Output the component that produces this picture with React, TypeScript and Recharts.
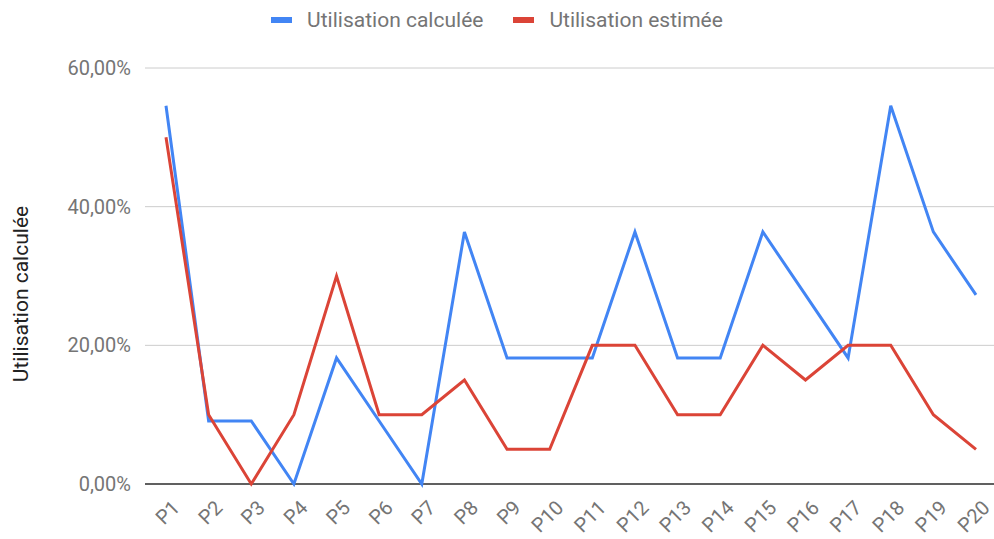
import { LineChart, Line, XAxis, YAxis, CartesianGrid, Legend, ReferenceLine } from "recharts";

const periods = ["P1", "P2", "P3", "P4", "P5", "P6", "P7", "P8", "P9", "P10", "P11", "P12", "P13", "P14", "P15", "P16", "P17", "P18", "P19", "P20"];
const calculee = [0.5455, 0.0909, 0.0909, 0, 0.1818, 0.0909, 0, 0.3636, 0.1818, 0.1818, 0.1818, 0.3636, 0.1818, 0.1818, 0.3636, 0.2727, 0.1818, 0.5455, 0.3636, 0.2727];
const estimee = [0.5, 0.1, 0, 0.1, 0.3, 0.1, 0.1, 0.15, 0.05, 0.05, 0.2, 0.2, 0.1, 0.1, 0.2, 0.15, 0.2, 0.2, 0.1, 0.05];
const yTicks = [0, 0.2, 0.4, 0.6];

const data = periods.map((p, i) => ({ name: p, calculee: calculee[i], estimee: estimee[i] }));

const FONT = "Roboto, Arial, sans-serif";
const GREY = "#757575";

const fmtPct = (v: number) => (v * 100).toFixed(2).replace(".", ",") + "%";

function XTick({ x = 0, y = 0, payload }: any) {
  return (
    <text
      x={x + 10}
      y={y + 12}
      textAnchor="end"
      fill={GREY}
      fontSize={20}
      fontFamily={FONT}
      transform={`rotate(-45, ${x + 10}, ${y + 12})`}
      dominantBaseline="central"
    >
      {payload.value}
    </text>
  );
}

function LegendContent({ payload }: any) {
  return (
    <div style={{ display: "flex", justifyContent: "center", fontFamily: FONT, fontSize: 21, lineHeight: "24px", color: GREY, height: 24 }}>
      {(payload || []).map((e: any) => (
        <div key={e.value} style={{ display: "flex", alignItems: "center", margin: "0 15px" }}>
          <span style={{ width: 21, height: 6, background: e.color, display: "inline-block", marginRight: 15 }} />
          <span>{e.value}</span>
        </div>
      ))}
    </div>
  );
}

export default function App() {
  return (
    <div style={{ position: "absolute", left: 0, top: 0, background: "#fff" }}>
      <LineChart width={994} height={539} data={data} margin={{ top: 44, right: 0, bottom: 0, left: 0 }}>
        <CartesianGrid stroke="#cccccc" vertical={false} />
        <XAxis
          dataKey="name"
          padding={{ left: 21, right: 18 }}
          tick={<XTick />}
          tickLine={false}
          axisLine={false}
          interval={0}
          height={55}
        />
        <YAxis
          domain={[0, 0.6]}
          ticks={yTicks}
          tickFormatter={fmtPct}
          width={145}
          tickLine={false}
          axisLine={false}
          tick={{ fill: GREY, fontSize: 20, fontFamily: FONT, dx: -6 }}
          label={{
            content: () => (
              <text
                x={21}
                y={294}
                textAnchor="middle"
                dominantBaseline="central"
                transform="rotate(-90, 21, 294)"
                fill="#222"
                fontSize={21}
                fontFamily={FONT}
              >
                Utilisation calculée
              </text>
            ),
          }}
        />
        <ReferenceLine y={0} stroke="#333" strokeWidth={1.5} />
        <Legend verticalAlign="top" content={<LegendContent />} wrapperStyle={{ top: 8 }} />
        <Line
          dataKey="calculee"
          name="Utilisation calculée"
          stroke="#4285f4"
          strokeWidth={3}
          dot={false}
          isAnimationActive={false}
        />
        <Line
          dataKey="estimee"
          name="Utilisation estimée"
          stroke="#db4437"
          strokeWidth={3}
          dot={false}
          isAnimationActive={false}
        />
      </LineChart>
    </div>
  );
}
